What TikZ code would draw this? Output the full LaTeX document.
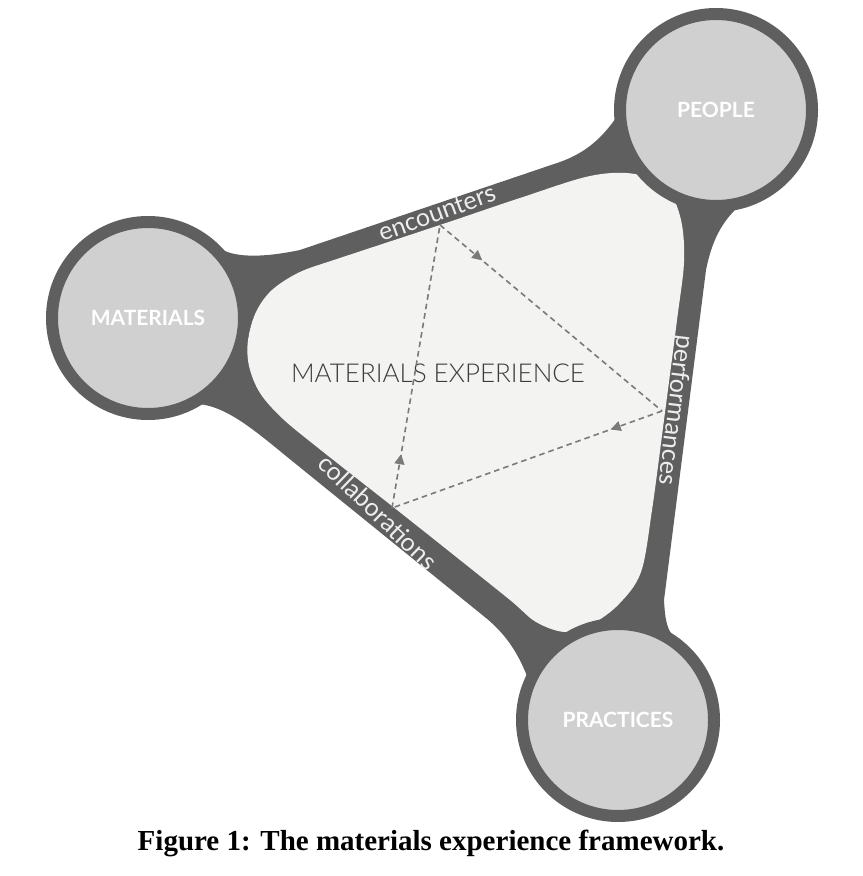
\documentclass[tikz,border=0pt]{standalone}
\usepackage{fontspec}
\setmainfont{Liberation Serif}
\newfontfamily\latofont{Lato}
\IfFontExistsTF{Lato Light}{\newfontfamily\lightfont{Lato Light}}{\newfontfamily\lightfont{Lato}}
\usetikzlibrary{arrows.meta,decorations.markings}
\pgfdeclarelayer{bg}
\pgfsetlayers{bg,main}
\definecolor{band}{HTML}{5F5F5F}
\definecolor{inner}{HTML}{F3F3F2}
\definecolor{disc}{HTML}{D0D0D0}
\definecolor{flowgray}{HTML}{7A7A7A}
\definecolor{heading}{HTML}{3C3C3C}
\tikzset{
  hub/.style={circle, draw=band, fill=disc, line width=6pt, minimum size=96pt,
    inner sep=0pt, text=white, font=\latofont\bfseries\fontsize{10.5}{12}\selectfont},
  bandlabel/.style={text=white!93!black, inner sep=0pt,
    font=\latofont\fontsize{12.5}{14}\selectfont},
  flow/.style={draw=flowgray, line width=0.8pt, dash pattern=on 2.8pt off 2pt,
    postaction={decorate}, decoration={markings,
      mark=at position 0.19 with {\arrow{Triangle[length=5pt,width=5pt]}}}},
}

\begin{document}
\begin{tikzpicture}[x=0.5pt,y=-0.5pt]
  \useasboundingbox (0,0) rectangle (862,876);

    \node (mat) [hub] at (148,318) {MATERIALS};
    \node (ppl) [hub] at (716,110) {PEOPLE};
    \node (prc) [hub] at (618,720) {PRACTICES};

    \coordinate (enc) at (440,225);
    \coordinate (perf) at (662,411);
    \coordinate (coll) at (392,508);

  \begin{pgfonlayer}{bg}
    \fill[white] (0,0) rectangle (862,876);
    % the thick band joining the three circles
    \fill[band] (mat.center) -- (218,247) .. controls (232,258) and (262,258) .. (300,250)
      -- (560,162) .. controls (588,152) and (603,136) .. (616,118) -- (ppl.center)
      -- (738,207) .. controls (722,222) and (712,240) .. (706,270)
      -- (664,600) .. controls (665,620) and (667,632) .. (677,640) -- (prc.center)
      -- (527,676) .. controls (519,656) and (508,636) .. (486,618)
      -- (286,456) .. controls (252,428) and (225,406) .. (198,404) -- cycle;
    \fill[inner] plot[smooth cycle, tension=0.55] coordinates {
      (440,225) (520,198) (590,176) (635,174) (667,189) (681,220) (684,262)
      (677,320) (664,420) (652,510) (641,572) (619,604) (592,624) (565,632)
      (536,622) (510,600) (450,552) (392,506) (322,451) (283,419) (260,393)
      (249,366) (248,340) (256,312) (272,290) (300,272) (340,258)};
  \end{pgfonlayer}

    \node (centre) [text=heading, font=\lightfont\fontsize{13}{15}\selectfont] at (438,373) {MATERIALS EXPERIENCE};
    \node (encl) [bandlabel, rotate=20] at (437,213) {encounters};
    \node (perfl) [bandlabel, rotate=-97] at (675,410) {performances};
    \node (colll) [bandlabel, rotate=-44] at (378,512) {collaborations};

  \draw[flow] (enc) -- (perf);
  \draw[flow] (perf) -- (coll);
  \draw[flow] (coll) -- (enc);

    \node (caption) [font=\bfseries\fontsize{14.5}{17}\selectfont] at (431,843) {Figure 1: The materials experience framework.};
\end{tikzpicture}
\end{document}
